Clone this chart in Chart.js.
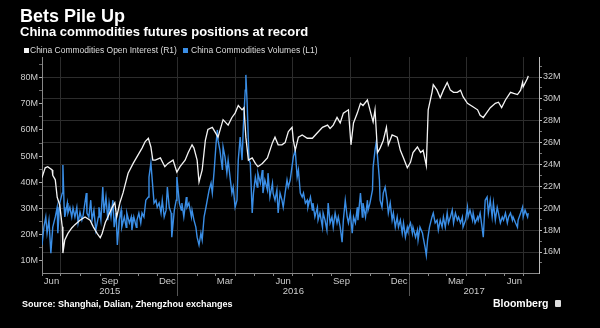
<!DOCTYPE html>
<html>
<head>
<meta charset="utf-8">
<script src="https://cdn.jsdelivr.net/npm/chart.js@4.4.1/dist/chart.umd.min.js"></script>
<style>
  html, body { margin: 0; padding: 0; background: #000; }
  body { width: 600px; height: 328px; position: relative; overflow: hidden;
         font-family: "Liberation Sans", Arial, sans-serif; }
  #chart { position: absolute; left: 0; top: 0; }
  .txt { position: absolute; white-space: nowrap; line-height: 1; color: #fff; }
  .title { left: 20px; top: 7px; font-size: 18px; font-weight: bold; }
  .sub { left: 20px; top: 25px; font-size: 13px; font-weight: bold; }
  .leg { top: 45.5px; font-size: 8.5px; color: #ddd; }
  .sw { position: absolute; top: 47.5px; width: 5px; height: 5px; }
  .source { left: 22px; top: 300px; font-size: 9px; font-weight: bold; }
  .brand { left: 493px; top: 297.5px; font-size: 10.5px; font-weight: bold; }
  .logo { position: absolute; left: 555px; top: 299.5px; width: 6px; height: 7px;
          background: #ddd; border-radius: 1px; }
</style>
</head>
<body>
<canvas id="chart" width="600" height="328"></canvas>
<div class="txt title">Bets Pile Up</div>
<div class="txt sub">China commodities futures positions at record</div>
<div class="sw" style="left:24px;background:#f4f4f4"></div>
<div class="txt leg" style="left:30px">China Commodities Open Interest (R1)</div>
<div class="sw" style="left:183px;background:#3a8ee6"></div>
<div class="txt leg" style="left:191px">China Commodities Volumes (L1)</div>
<div class="txt source">Source: Shanghai, Dalian, Zhengzhou exchanges</div>
<div class="txt brand">Bloomberg</div>
<div class="logo"></div>
<script>
'use strict';

// x values are days counted from 1 Jun 2015
const START = Date.UTC(2015, 5, 1);
const DAY = 86400000;
const X_MAX = 785;

// open interest, millions (right axis)
const oiDay = [
  0,5,9,16,17,21,24,28,32,33, 36,41,47,52,60,68,76,81,87,92,
  95,100,104,111,115,118,123,128,136,144, 152,158,163,168,172,175,179,187,194,199,
  207,213,218,226,231,237,240,245,248,253, 258,262,269,273,278,286,294,300,305,310,
  316,319,322,326,332,337,341,348,356,364, 368,373,379,384,389,392,395,397,400,405,
  411,419,427,435,443,451,455,460,466,471, 476,484,488,492,498,503,507,514,518,523,
  526,530,534,539,544,547,553,561,566,571, 577,582,586,593,598,602,607,610,616,618,
  624,629,634,640,645,650,656,661,665,672, 680,688,692,697,703,708,716,721,726,732,
  740,745,751,756,759,760,767,768
];
const oiVal = [
  22.8,23.7,23.8,23.5,23.0,22.6,21.0,20.3,18.3,15.9, 17.1,17.7,18.2,18.5,18.9,19.2,18.9,18.3,17.7,17.3,
  17.7,18.7,19.2,20.1,20.5,19.2,20.5,21.4,23.2,24.1, 24.9,25.5,26.1,26.4,25.6,24.4,24.4,24.6,23.8,24.1,
  24.4,23.3,23.8,24.4,25.1,25.8,25.5,24.4,22.4,23.5, 26.2,27.2,27.4,27.0,26.5,28.1,27.6,28.3,28.7,29.4,
  29.0,29.2,26.5,24.4,24.6,24.1,23.8,24.1,24.6,26.0, 26.5,25.8,25.8,26.0,27.0,27.2,27.4,26.2,25.3,26.5,
  26.7,26.4,26.4,26.9,27.4,27.6,27.3,27.6,28.3,27.8, 28.7,29.0,25.8,27.8,28.7,29.6,29.4,29.9,29.0,27.9,
  29.0,25.1,25.5,26.2,27.4,25.8,26.7,26.5,25.3,24.6, 23.7,24.2,25.1,25.6,25.1,25.3,23.9,29.0,30.6,31.3,
  30.8,30.1,30.8,31.5,30.8,30.6,30.6,30.8,30.2,29.6, 29.3,29.0,28.5,28.3,28.8,29.2,29.6,29.7,29.2,29.9,
  30.6,30.5,30.4,30.8,31.5,31.1,31.9,32.1
];

// volumes, millions (left axis)
const volDay = [
  0,3,6,8,11,14,17,21,24,25, 28,32,33,35,36,40,41,44,47,49,
  52,55,57,60,63,65,70,71,74,77, 79,82,85,89,90,93,96,98,101,104,
  106,109,112,114,117,119,122,125,126,130, 133,134,138,141,142,145,149,150,153,156,
  158,161,164,168,169,172,175,177,180,182, 185,188,190,193,196,198,201,204,205,209,
  212,213,217,220,221,224,228,229,232,236, 237,240,243,245,248,251,253,256,259,261,
  264,267,269,272,275,277,278,281,285,286, 289,292,294,297,300,302,305,308,310,313,
  316,318,321,322,324,327,329,332,334,337, 340,341,345,348,349,352,356,357,360,364,
  365,368,371,373,376,379,381,384,387,389, 392,397,400,403,405,408,411,413,416,419,
  420,424,427,428,431,435,436,439,443,444, 447,450,452,455,458,460,463,466,468,471,
  474,476,479,482,484,487,490,492,495,498, 499,503,506,507,511,514,515,518,522,523,
  526,528,530,533,534,537,539,542,545,547, 550,553,555,558,561,563,566,569,571,574,
  577,578,582,585,586,590,593,594,597,601, 602,605,607,609,612,616,618,621,624,626,
  629,632,634,637,640,642,645,648,650,653, 656,658,661,664,665,669,672,673,676,680,
  681,684,688,689,692,695,697,700,703,705, 708,711,713,716,719,721,724,727,729,732,
  735,737,740,743,744,748,751,752,756,759, 760,763,767,768
];
const volVal = [
  16.1,22.9,26.8,20.6,25.6,13.0,22.9,26.8,30.5,20.6, 32.1,35.9,46.6,30.5,26.8,32.1,28.3,30.5,26.8,30.2,
  26.8,30.5,24.5,28.6,25.6,27.5,35.9,28.3,26.8,33.2, 25.6,29.4,21.8,26.8,30.5,25.6,38.2,28.3,34.4,25.6,
  32.1,26.8,33.2,22.9,28.3,16.1,25.6,29.4,22.9,26.8, 22.9,28.3,24.5,26.8,21.8,26.8,22.9,25.6,28.3,24.5,
  28.3,26.8,33.2,34.4,42.0,47.4,38.2,32.1,33.2,30.5, 32.1,28.3,33.2,26.8,29.4,38.2,30.5,28.3,19.1,29.4,
  33.2,42.0,32.1,29.4,32.1,26.8,34.4,30.5,32.1,26.8, 29.4,25.6,22.9,19.1,16.1,20.6,18.0,26.8,30.5,33.2,
  37.1,39.7,35.9,44.7,55.0,60.0,56.1,52.3,44.7,53.5, 49.7,43.5,48.5,42.0,35.9,38.2,30.5,33.2,48.5,57.3,
  48.5,61.1,75.2,81.0,70.3,48.5,47.4,28.3,35.9,42.0, 38.2,43.5,39.7,44.7,35.9,40.9,37.1,43.5,34.4,39.7,
  35.9,33.2,37.1,28.3,35.9,33.2,30.5,35.9,40.9,38.2, 40.9,49.7,52.3,42.0,44.7,35.9,34.4,35.9,32.1,33.2,
  30.5,34.4,29.4,32.1,26.8,30.5,25.6,28.3,22.9,28.3, 25.6,21.8,32.1,24.5,26.8,22.9,28.3,24.5,26.8,22.9,
  17.2,25.6,33.2,26.8,24.5,28.3,20.6,26.8,24.5,30.5, 25.6,35.9,26.8,32.1,26.8,33.2,29.4,32.1,37.1,45.8,
  52.3,55.4,49.7,40.9,33.2,30.5,35.9,38.2,33.2,28.3, 32.1,25.6,28.3,22.9,26.8,22.9,25.6,20.6,24.5,19.1,
  22.9,21.8,24.5,20.6,22.9,19.1,21.8,18.0,22.9,20.6, 19.1,15.3,12.2,18.0,22.9,26.8,28.3,24.5,25.6,21.8,
  25.6,22.9,26.8,22.9,28.3,24.5,26.8,29.4,24.5,28.3, 25.6,26.8,24.5,26.8,22.9,25.6,30.5,26.8,29.4,25.6,
  28.3,24.5,26.8,25.6,28.3,22.9,19.1,33.2,34.4,28.3, 33.2,26.8,32.1,25.6,30.5,28.3,24.5,26.8,25.6,28.3,
  24.5,26.8,28.3,25.6,26.8,24.5,22.9,25.6,28.3,30.5, 26.8,29.4,26.8,28.3
];

const monthNames = { 5: 'Jun', 8: 'Sep', 11: 'Dec', 2: 'Mar' };
const yearLabels = ['2015', '2016', '2017'];
const leftTicks = [10, 15, 20, 25, 30, 35, 40, 45, 50, 55, 60, 65, 70, 75, 80, 85];
const rightTicks = [15, 16, 17, 18, 19, 20, 21, 22, 23, 24, 25, 26, 27, 28, 29, 30, 31, 32, 33];

const GRID = '#2c2c2c';

const dayOf = (y, m) => Math.round((Date.UTC(y, m, 1) - START) / DAY);
const monthOf = d => new Date(START + d * DAY).getUTCMonth();

const monthStarts = [];
for (let i = 0; i < 27; i++) {
  const d = dayOf(2015, 5 + i);
  if (d <= X_MAX) monthStarts.push(d);
}
const yearStarts = [dayOf(2016, 0), dayOf(2017, 0)];
const yearEdges = [0, ...yearStarts, X_MAX];
const yearCentres = yearLabels.map((_, i) => (yearEdges[i] + yearEdges[i + 1]) / 2);

const toPoints = (xs, ys) => xs.map((x, i) => ({ x, y: ys[i] }));

const yearDividers = {
  id: 'yearDividers',
  afterDraw(chart) {
    const sx = chart.scales.x, c = chart.ctx;
    c.save();
    c.strokeStyle = '#555';
    c.lineWidth = 1;
    yearStarts.forEach(d => {
      const px = Math.round(sx.getPixelForValue(d)) + 0.5;
      c.beginPath();
      c.moveTo(px, sx.top + 2);
      c.lineTo(px, sx.top + 23);
      c.stroke();
    });
    c.restore();
  }
};

Chart.defaults.font.family = '"Liberation Sans", Arial, sans-serif';

new Chart(document.getElementById('chart'), {
  type: 'line',
  data: {
    datasets: [
      { label: 'China Commodities Open Interest (R1)', data: toPoints(oiDay, oiVal),
        yAxisID: 'y2', borderColor: '#f4f4f4', borderWidth: 1.3, pointRadius: 0, tension: 0 },
      { label: 'China Commodities Volumes (L1)', data: toPoints(volDay, volVal),
        yAxisID: 'y', borderColor: '#3a8ee6', borderWidth: 1.4, pointRadius: 0, tension: 0 }
    ]
  },
  options: {
    responsive: false, animation: false, devicePixelRatio: 1,
    layout: { padding: { left: 0, right: 0, top: 57, bottom: 27 } },
    plugins: { legend: { display: false }, tooltip: { enabled: false } },
    scales: {
      x: {
        type: 'linear', position: 'bottom', min: 0, max: X_MAX,
        afterBuildTicks: s => { s.ticks = monthStarts.map(v => ({ value: v })); },
        afterFit: s => { s.height = 13; },
        grid: {
          color: ctx => (ctx.tick && monthOf(ctx.tick.value) % 3 === 0) ? GRID : 'rgba(0,0,0,0)',
          tickColor: '#888', tickLength: 3
        },
        border: { color: '#888' },
        ticks: { autoSkip: false, maxRotation: 0, padding: 0, labelOffset: 9.5, color: '#ccc',
                 font: { size: 9.5 }, callback: v => monthNames[monthOf(v)] || '' }
      },
      x2: {
        type: 'linear', position: 'bottom', min: 0, max: X_MAX,
        afterBuildTicks: s => { s.ticks = yearCentres.map(v => ({ value: v })); },
        afterFit: s => { s.height = 15; },
        grid: { display: false, drawTicks: false },
        border: { display: false },
        ticks: { autoSkip: false, maxRotation: 0, padding: 0, color: '#ccc',
                 font: { size: 9.5 }, callback: (v, i) => yearLabels[i] }
      },
      y: {
        position: 'left', min: 5.42, max: 87.82,
        afterBuildTicks: s => { s.ticks = leftTicks.map(v => ({ value: v })); },
        afterFit: s => { s.width = 42; },
        grid: { drawOnChartArea: false, tickLength: 3,
                tickColor: ctx => (ctx.tick && ctx.tick.value % 10 === 0) ? '#aaa' : '#666' },
        border: { color: '#888' },
        ticks: { autoSkip: false, padding: 1, color: '#ccc', font: { size: 9 },
                 callback: v => v % 10 === 0 ? v + 'M' : '' }
      },
      y2: {
        position: 'right', min: 14.08, max: 33.83,
        afterBuildTicks: s => { s.ticks = rightTicks.map(v => ({ value: v })); },
        afterFit: s => { s.width = 61; },
        grid: { color: ctx => (ctx.tick && ctx.tick.value % 2 === 0) ? GRID : 'rgba(0,0,0,0)',
                tickLength: 3,
                tickColor: ctx => (ctx.tick && ctx.tick.value % 2 === 0) ? '#bbb' : '#777' },
        border: { color: '#bbb' },
        ticks: { autoSkip: false, padding: 1, color: '#ccc', font: { size: 9 },
                 callback: v => v % 2 === 0 ? v + 'M' : '' }
      }
    }
  },
  plugins: [yearDividers]
});
</script>
</body>
</html>
